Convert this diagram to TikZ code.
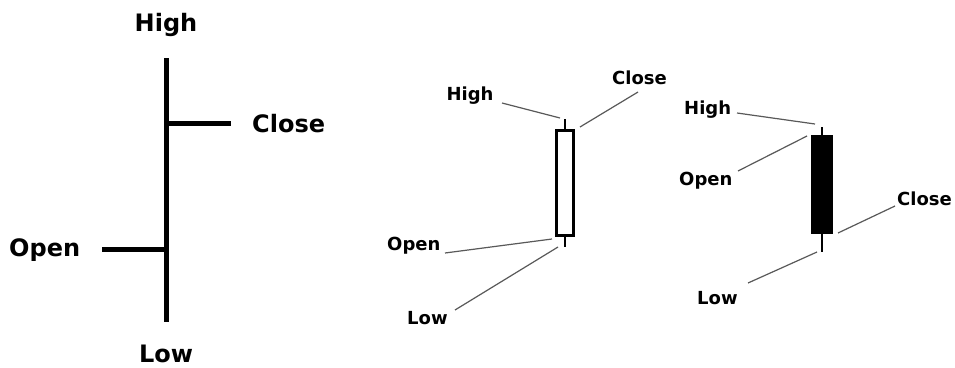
\documentclass[tikz,border=0pt]{standalone}
\usepackage{fontspec}
\setmainfont{DejaVu Sans}
\begin{document}
\begin{tikzpicture}[x=1pt,y=-1pt,
  big/.style={font=\fontsize{24}{24}\selectfont\bfseries, inner sep=0pt, text height=0.73em, text depth=0pt},
  small/.style={font=\fontsize{18}{18}\selectfont\bfseries, inner sep=0pt, text height=0.73em, text depth=0pt},
  bar/.style={line width=5pt},
  leader/.style={draw=black!65, line width=1.2pt},
  wick/.style={line width=2.6pt}]
\useasboundingbox[fill=white] (0,0) rectangle (955,367);

% ---- left OHLC bar
\coordinate (barTop) at (166,58);
\coordinate (barBot) at (166,322);
\coordinate (cL) at (164,123);
\coordinate (cR) at (231,123);
\coordinate (oL) at (102,249);
\coordinate (oR) at (168,249);
\draw[bar] (barTop) -- (barBot);
\draw[bar] (cL) -- (cR);
\draw[bar] (oL) -- (oR);
\node[big] (bHigh) at (166,28) {High};
\node[big, anchor=west] (bClose) at (252,129) {Close};
\node[big, anchor=west] (bOpen) at (9,253) {Open};
\node[big] (bLow) at (166,359) {Low};

% ---- middle hollow candle
\coordinate (mwt) at (565,119);
\coordinate (mbt) at (565,129);
\coordinate (mbb) at (565,237);
\coordinate (mwb) at (565,247);
\draw[wick] (mwt) -- (mbt);
\draw[wick] (mbb) -- (mwb);
\node[draw, line width=3pt, fill=white, minimum width=17pt, minimum height=105pt, inner sep=0pt] (mBody) at (565,183) {};
\node[small] (mHigh) at (470,97) {High};
\node[small, anchor=west] (mClose) at (612,81) {Close};
\node[small, anchor=west] (mOpen) at (387,247) {Open};
\node[small, anchor=west] (mLow) at (407,321) {Low};
\coordinate (mh1) at (502,103); \coordinate (mh2) at (560,118);
\coordinate (mc1) at (638,92);  \coordinate (mc2) at (580,127);
\coordinate (mo1) at (445,253); \coordinate (mo2) at (552,239);
\coordinate (ml1) at (455,310); \coordinate (ml2) at (558,247);
\draw[leader] (mh1) -- (mh2);
\draw[leader] (mc1) -- (mc2);
\draw[leader] (mo1) -- (mo2);
\draw[leader] (ml1) -- (ml2);

% ---- right filled candle
\coordinate (rwt) at (822,127);
\coordinate (rbt) at (822,135);
\coordinate (rbb) at (822,234);
\coordinate (rwb) at (822,252);
\draw[wick] (rwt) -- (rbt);
\draw[wick] (rbb) -- (rwb);
\node[fill=black, minimum width=22pt, minimum height=99pt, inner sep=0pt] (rBody) at (822,184.5) {};
\node[small, anchor=west] (rHigh) at (684,111) {High};
\node[small, anchor=west] (rOpen) at (679,182) {Open};
\node[small, anchor=west] (rClose) at (897,202) {Close};
\node[small, anchor=west] (rLow) at (697,301) {Low};
\coordinate (rh1) at (737,113); \coordinate (rh2) at (815,124);
\coordinate (ro1) at (738,171); \coordinate (ro2) at (807,136);
\coordinate (rc1) at (895,206); \coordinate (rc2) at (838,233);
\coordinate (rl1) at (748,283); \coordinate (rl2) at (817,252);
\draw[leader] (rh1) -- (rh2);
\draw[leader] (ro1) -- (ro2);
\draw[leader] (rc1) -- (rc2);
\draw[leader] (rl1) -- (rl2);
\end{tikzpicture}
\end{document}
